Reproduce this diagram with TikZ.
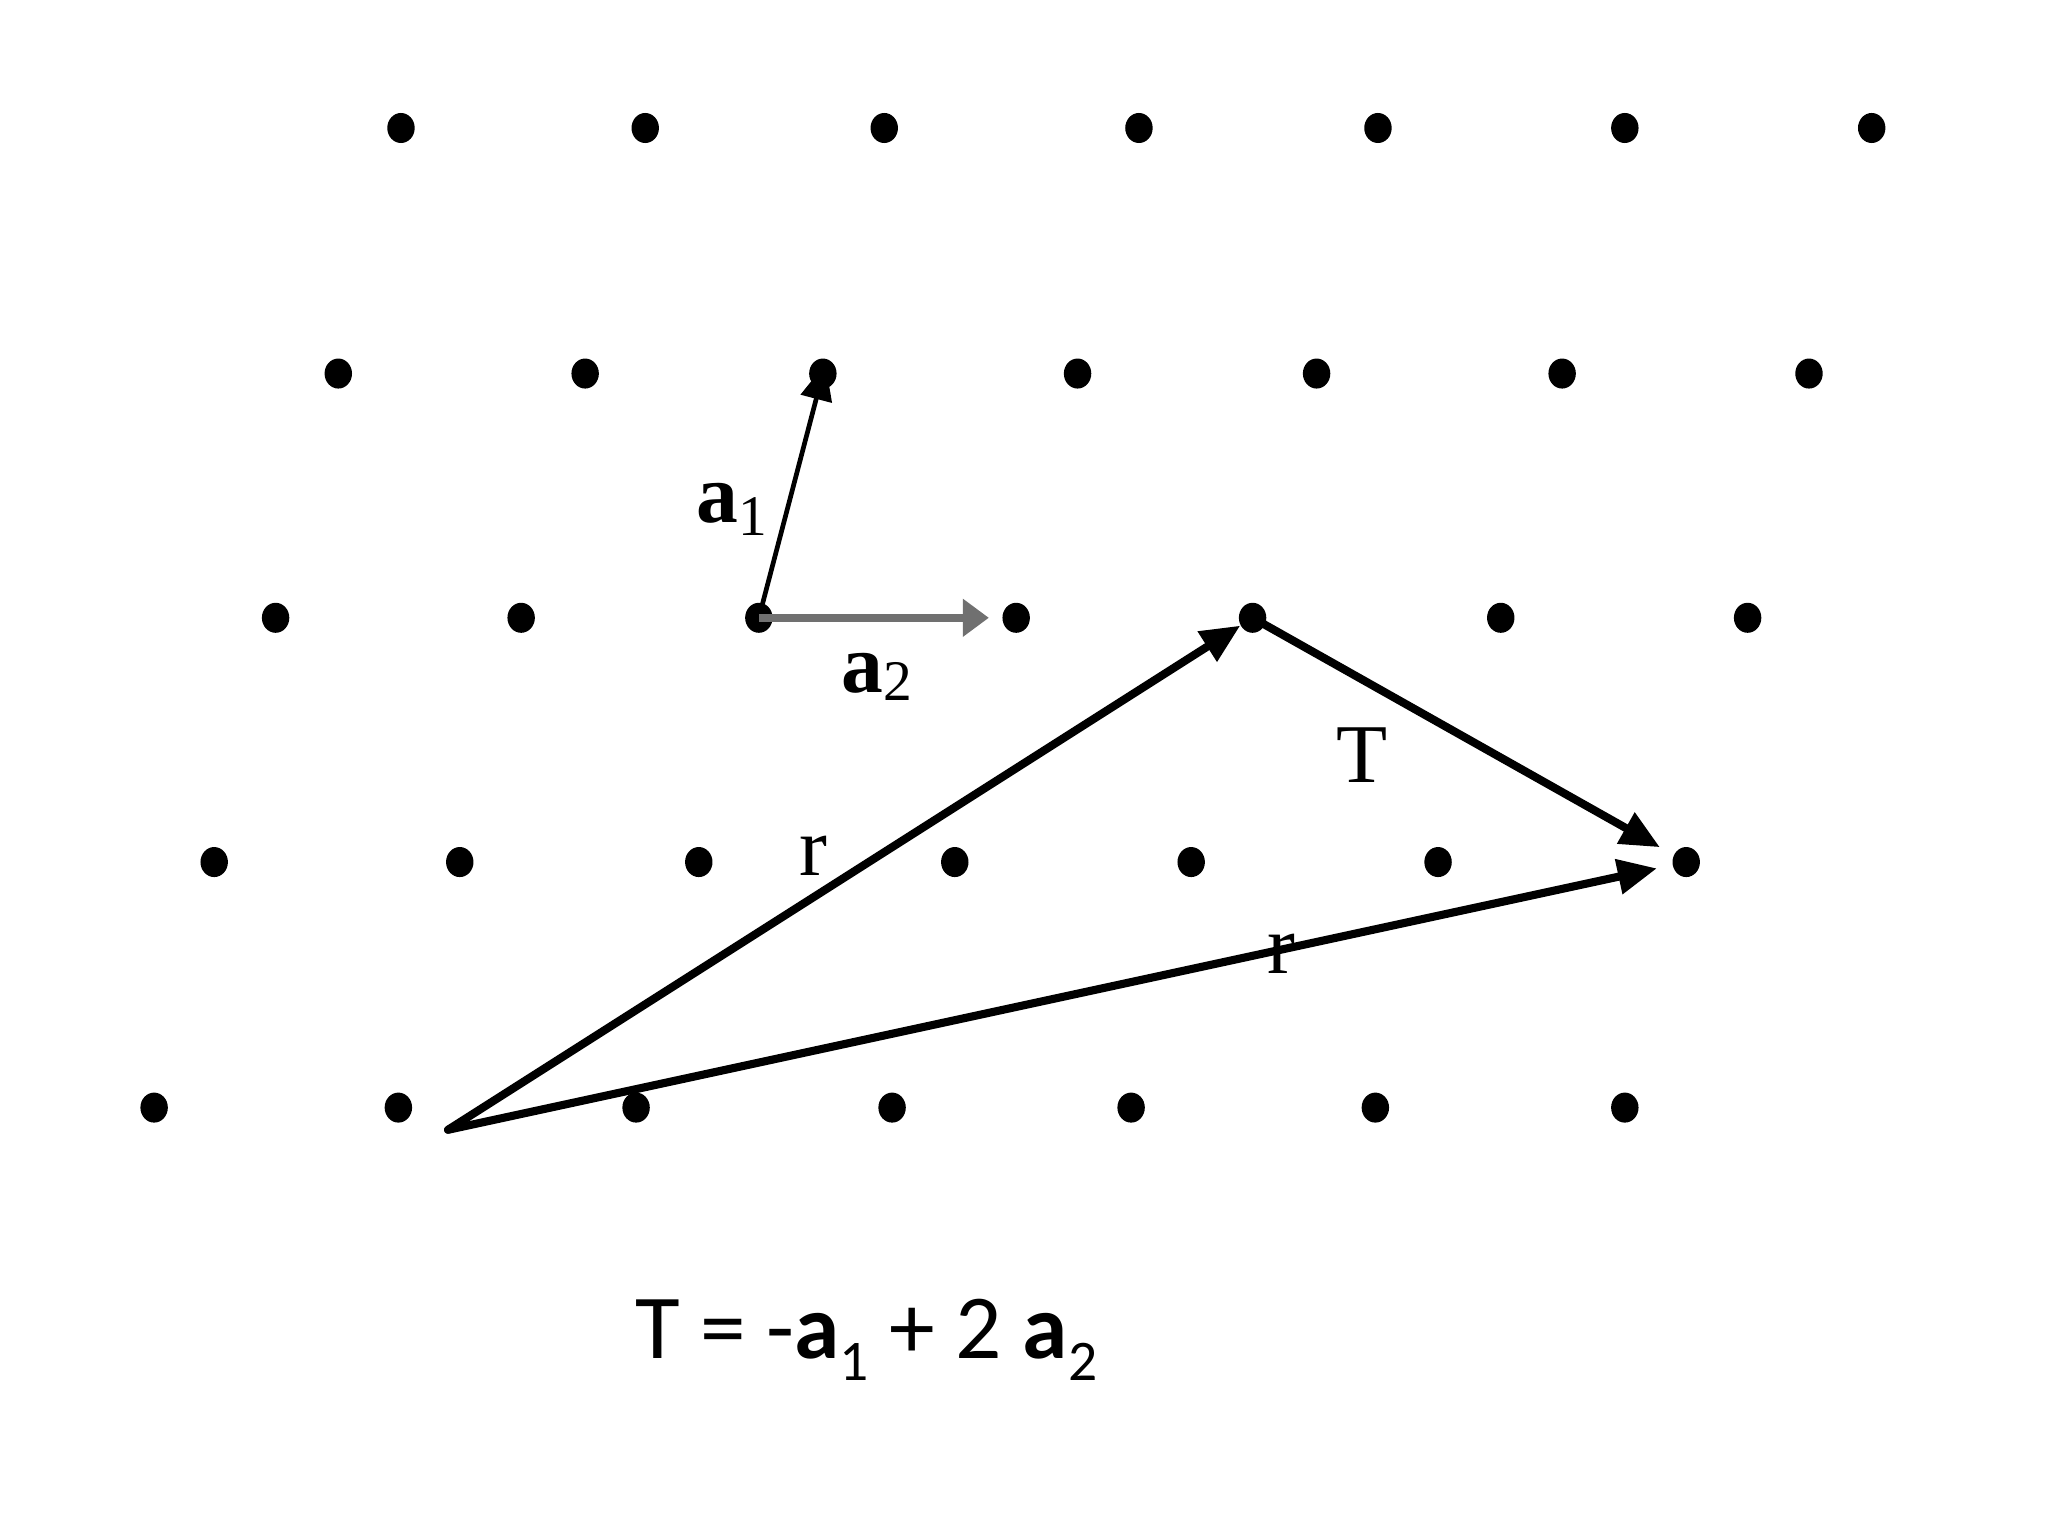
\documentclass[tikz,border=0pt]{standalone}
\usepackage{fontspec}
\setmainfont{Liberation Serif}
\newfontfamily\calib{Carlito}
\usetikzlibrary{arrows.meta,shapes.geometric}
\definecolor{vecgray}{RGB}{112,112,112}
\begin{document}
\begin{tikzpicture}[x=0.5pt,y=-0.5pt,
  dot/.style={ellipse,fill=black,inner sep=0pt,minimum width=10.5pt,minimum height=11.5pt},
  vec/.style={line width=3.1pt,line cap=round,-{Triangle[length=15pt,width=13pt]}},
  avec/.style={line width=1.8pt,-{Triangle[length=14pt,width=12pt]}},
  bvec/.style={line width=3pt,vecgray,-{Triangle[length=10pt,width=14pt]}},
  lbl/.style={inner sep=0pt,anchor=base west,font=\fontsize{32}{32}\selectfont},
  formula/.style={inner sep=0pt,anchor=base west,font=\calib\fontsize{35}{35}\selectfont}]
\useasboundingbox (0,0) rectangle (1568,1176);
% lattice points
\foreach \x [count=\c] in {307,494,677,872,1055,1244,1433} \node[dot] (d1-\c) at (\x,98) {};
\foreach \x [count=\c] in {259,448,630,825,1008,1196,1385} \node[dot] (d2-\c) at (\x,286) {};
\foreach \x [count=\c] in {211,399,581,778,959,1149,1338} \node[dot] (d3-\c) at (\x,473) {};
\foreach \x [count=\c] in {164,352,535,731,912,1101,1291} \node[dot] (d4-\c) at (\x,660) {};
\foreach \x [count=\c] in {118,305,487,683,866,1053,1244} \node[dot] (d5-\c) at (\x,848) {};
% primitive vectors
\draw[avec,shorten >=-4pt] (d3-3.center) -- (d2-3.center);
\draw[bvec,shorten >=5pt] (d3-3.center) -- (d3-4);
% position vectors and translation
\coordinate (O) at (343,865);
\draw[vec] (O) -- (d3-5);
\draw[vec,shorten >=6pt] (O) -- (d4-7);
\draw[vec,shorten >=6pt] (d3-5.center) -- (d4-7);
% labels
\node[lbl] (la1) at (533,400) {\textbf{a}\raisebox{-5pt}{\fontsize{22}{22}\selectfont 1}};
\node[lbl] (la2) at (644,530) {\textbf{a}\raisebox{-3pt}{\fontsize{22}{22}\selectfont 2}};
\node[lbl] (lr1) at (612,670) {r};
\node[lbl] (lr2) at (970,745) {r};
\node[lbl] (lT) at (1023,599) {T};
\node[formula] (eq) at (486,1040) {T = -\textbf{a}\raisebox{-8.5pt}{\fontsize{22}{22}\selectfont 1} + 2 \textbf{a}\raisebox{-8.5pt}{\fontsize{22}{22}\selectfont 2}};
\end{tikzpicture}
\end{document}
